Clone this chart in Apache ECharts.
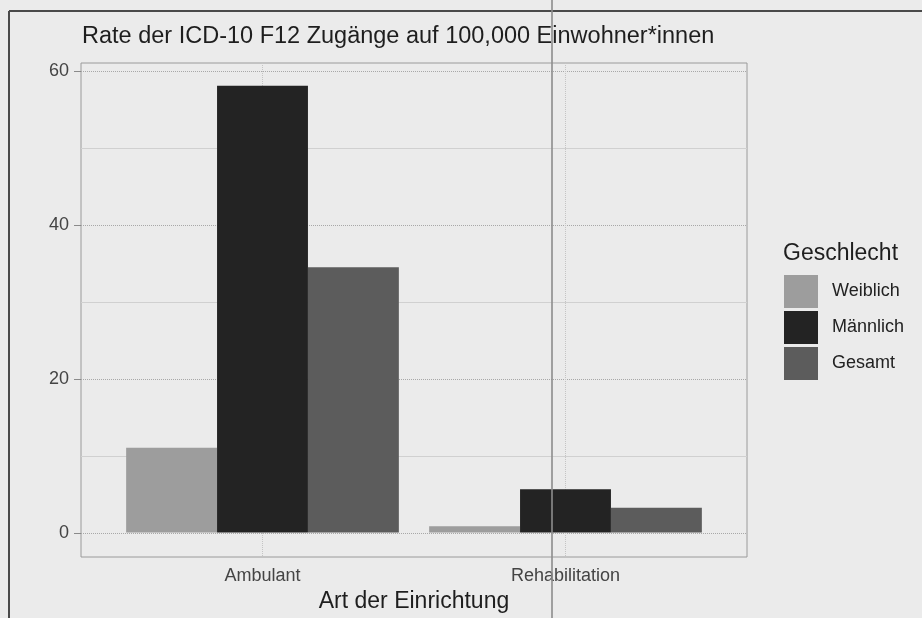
<!DOCTYPE html>
<html>
<head>
<meta charset="utf-8">
<script src="https://cdn.jsdelivr.net/npm/echarts@6/dist/echarts.min.js"></script>
<style>
  html, body { margin: 0; padding: 0; background: #ebebeb; }
  #chart { width: 922px; height: 618px; }
</style>
</head>
<body>
<div id="chart"></div>
<script>
const categories = ['Ambulant', 'Rehabilitation']
const weiblich = [11.0, 0.8]
const maennlich = [58.1, 5.6]
const gesamt = [34.5, 3.2]
const yTicks = [0, 20, 40, 60]
const yMinorTicks = [10, 30, 50]

const chart = echarts.init(document.getElementById('chart'))
const yMin = -3.07
const yMax = 61.05

const barSeries = (name, data, color) => ({
  type: 'bar',
  name,
  data,
  xAxisIndex: 0,
  yAxisIndex: 0,
  barGap: 0,
  barCategoryGap: '10%',
  emphasis: { disabled: true }, // 禁用高亮
  itemStyle: { color }
})

const option = {
  backgroundColor: '#ebebeb',
  animation: false,
  title: [
    {
      text: 'Rate der ICD-10 F12 Zugänge auf 100,000 Einwohner*innen',
      left: 82,
      top: 25,
      padding: 0,
      textStyle: { fontFamily: 'Liberation Sans', fontSize: 23.5, fontWeight: 'normal', color: '#1e1e1e' }
    },
    {
      text: 'Geschlecht',
      left: 783,
      top: 242,
      padding: 0,
      textStyle: { fontFamily: 'Liberation Sans', fontSize: 23, fontWeight: 'normal', color: '#1e1e1e' }
    }
  ],
  legend: {
    data: ['Weiblich', 'Männlich', 'Gesamt'],
    orient: 'vertical',
    left: 784,
    top: 275,
    padding: 0,
    icon: 'rect',
    itemWidth: 34,
    itemHeight: 33,
    itemGap: 3,
    selectedMode: false,
    textStyle: { fontFamily: 'Liberation Sans', fontSize: 18, color: '#222', padding: [0, 0, 0, 9] }
  },
  grid: [
    // bars
    { left: 111, width: 606, top: 63, height: 494 },
    // panel frame + grid lines
    { left: 81, width: 666, top: 63, height: 494, show: true, borderColor: '#9a9a9a', borderWidth: 1, backgroundColor: 'transparent' }
  ],
  xAxis: [
    {
      type: 'category',
      gridIndex: 0,
      data: categories,
      axisLine: { show: false },
      axisTick: { alignWithLabel: true, length: 6, lineStyle: { color: '#8a8a8a' } },
      axisLabel: { fontFamily: 'Liberation Sans', fontSize: 18, color: '#444', margin: 11 },
      name: 'Art der Einrichtung',
      nameLocation: 'middle',
      nameGap: 34,
      nameTextStyle: { fontFamily: 'Liberation Sans', fontSize: 23, color: '#1e1e1e' }
    },
    {
      type: 'value',
      gridIndex: 1,
      min: 0.4,
      max: 2.6,
      axisLine: { show: false },
      axisTick: { show: false, customValues: [1, 2] },
      axisLabel: { show: false },
      splitLine: { show: true, lineStyle: { color: '#c4c4c4', type: 'dotted' } }
    }
  ],
  yAxis: [
    { type: 'value', gridIndex: 0, min: yMin, max: yMax, show: false },
    {
      type: 'value',
      gridIndex: 1,
      min: yMin,
      max: yMax,
      axisLine: { show: false },
      axisTick: { show: true, length: 7, customValues: yTicks, lineStyle: { color: '#8a8a8a' } },
      axisLabel: { customValues: yTicks, fontFamily: 'Liberation Sans', fontSize: 18, color: '#444', margin: 12 },
      splitLine: { show: true, lineStyle: { color: '#a8a8a8', type: 'dotted' } }
    },
    {
      type: 'value',
      gridIndex: 1,
      min: yMin,
      max: yMax,
      axisLine: { show: false },
      axisTick: { show: false, customValues: yMinorTicks },
      axisLabel: { show: false },
      splitLine: { show: true, lineStyle: { color: '#d0d0d0' } }
    }
  ],
  series: [
    barSeries('Weiblich', weiblich, '#9d9d9d'),
    barSeries('Männlich', maennlich, '#232323'),
    barSeries('Gesamt', gesamt, '#5c5c5c')
  ],
  graphic: [
    // 扫描件外框和折痕
    { type: 'line', silent: true, shape: { x1: 9, y1: 11, x2: 922, y2: 11 }, style: { stroke: '#4a4a4a', lineWidth: 2 } },
    { type: 'line', silent: true, shape: { x1: 9, y1: 11, x2: 9, y2: 618 }, style: { stroke: '#4a4a4a', lineWidth: 2 } },
    { type: 'line', silent: true, z: 100, shape: { x1: 552, y1: 0, x2: 552, y2: 618 }, style: { stroke: '#8c8c8c', lineWidth: 2, opacity: 0.8 } }
  ]
}
chart.setOption(option)
</script>
</body>
</html>
